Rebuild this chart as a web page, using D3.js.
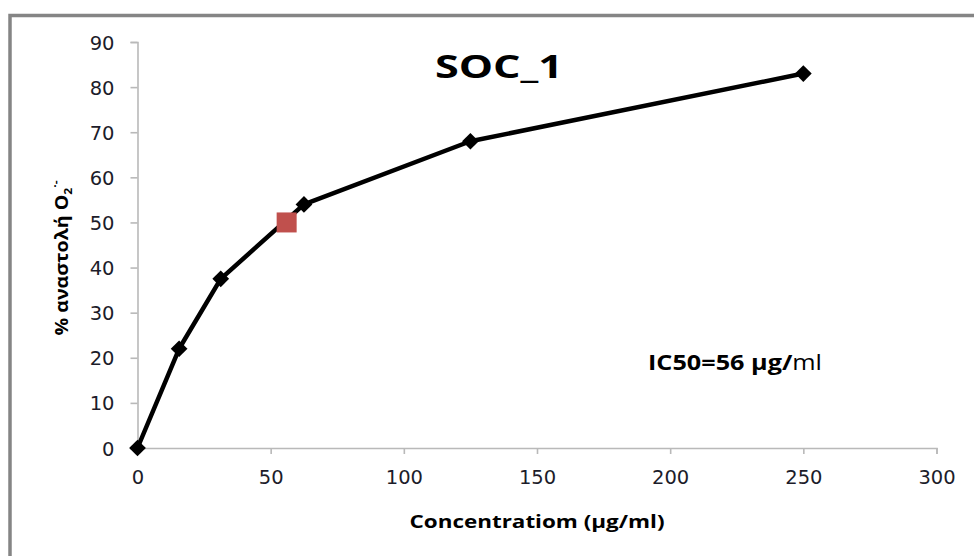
<!DOCTYPE html>
<html>
<head>
<meta charset="utf-8">
<script src="https://cdn.jsdelivr.net/npm/d3@7"></script>
<style>
  html, body { margin: 0; padding: 0; background: #fff; }
  svg { display: block; }
</style>
</head>
<body>
<svg id="chart" width="974" height="556"></svg>
<script>
// ---- data ----
const concentrations = [0, 15.625, 31.25, 62.5, 125, 250];
const inhibition = [0, 22, 37.5, 54, 68, 83];
const ic50Concentration = [56];
const ic50Inhibition = [50];
const xTickValues = [0, 50, 100, 150, 200, 250, 300];
const yTickValues = [0, 10, 20, 30, 40, 50, 60, 70, 80, 90];
const titleText = "SOC_1";
const xLabelText = "Concentratiom (µg/ml)";

const svg = d3.select("#chart");
const W = 974, H = 556;

svg.append("rect").attr("width", W).attr("height", H).attr("fill", "#fff");

// outer frame (only left and top visible)
svg.append("path")
  .attr("d", `M10,${H} V15.5 H${W}`)
  .attr("fill", "none")
  .attr("stroke", "#858585")
  .attr("stroke-width", 3.5);

const x = d3.scaleLinear().domain([0, 300]).range([137.5, 936.5]);
const y = d3.scaleLinear().domain([0, 90]).range([448, 42]);

const axisColor = "#b9b9b9";
const tickFont = "'DejaVu Sans', Verdana, sans-serif";

// y axis
const yAxis = svg.append("g").attr("transform", `translate(${x(0)},0)`)
  .call(d3.axisLeft(y).tickValues(yTickValues).tickSize(7).tickSizeOuter(7).tickPadding(16));
yAxis.select(".domain").attr("stroke", axisColor).attr("stroke-width", 1.6);
yAxis.selectAll(".tick line").attr("stroke", axisColor).attr("stroke-width", 1.6);
yAxis.selectAll(".tick text").attr("font-family", tickFont).attr("font-size", 19.5)
  .attr("fill", "#1c1c2a").attr("dy", "0.36em");

// x axis
const xAxis = svg.append("g").attr("transform", `translate(0,${y(0)})`)
  .call(d3.axisBottom(x).tickValues(xTickValues).tickSize(6).tickSizeOuter(6).tickPadding(16));
xAxis.select(".domain").attr("stroke", axisColor).attr("stroke-width", 1.6);
xAxis.selectAll(".tick line").attr("stroke", axisColor).attr("stroke-width", 1.6);
xAxis.selectAll(".tick text").attr("font-family", tickFont).attr("font-size", 19.5)
  .attr("fill", "#1c1c2a");

// line
const pts = concentrations.map((c, i) => [c, inhibition[i]]);
svg.append("path")
  .datum(pts)
  .attr("d", d3.line().x(d => x(d[0])).y(d => y(d[1])))
  .attr("fill", "none")
  .attr("stroke", "#000")
  .attr("stroke-width", 4.5)
  .attr("stroke-linejoin", "round");

// diamond markers
const diamond = d3.symbol().type(d3.symbolSquare).size(140);
svg.selectAll(".mk").data(pts).join("path")
  .attr("class", "mk")
  .attr("d", diamond)
  .attr("transform", d => `translate(${x(d[0])},${y(d[1])}) rotate(45)`)
  .attr("fill", "#000");

// IC50 red square
const icPts = ic50Concentration.map((c, i) => [c, ic50Inhibition[i]]);
svg.selectAll(".ic").data(icPts).join("rect")
  .attr("class", "ic")
  .attr("x", d => x(d[0]) - 10)
  .attr("y", d => y(d[1]) - 10)
  .attr("width", 20).attr("height", 20)
  .attr("fill", "#c0504d");

const labelFont = "'Open Sans', 'Noto Sans', sans-serif";

// title
svg.append("text")
  .attr("x", 499).attr("y", 78)
  .attr("text-anchor", "middle")
  .attr("font-family", labelFont).attr("font-weight", "bold")
  .attr("font-size", 32)
  .attr("textLength", 128).attr("lengthAdjust", "spacingAndGlyphs")
  .attr("fill", "#000")
  .text(titleText);

// IC50 annotation
const ic = svg.append("text")
  .attr("x", 648).attr("y", 370)
  .attr("font-family", labelFont).attr("font-size", 21)
  .attr("textLength", 174).attr("lengthAdjust", "spacingAndGlyphs")
  .attr("fill", "#000");
ic.append("tspan").attr("font-weight", "bold").text("IC50=56 µg/");
ic.append("tspan").attr("font-weight", "normal").text("ml");

// x label
svg.append("text")
  .attr("x", 537).attr("y", 528)
  .attr("text-anchor", "middle")
  .attr("font-family", labelFont).attr("font-weight", "bold")
  .attr("font-size", 18)
  .attr("textLength", 255).attr("lengthAdjust", "spacingAndGlyphs")
  .attr("fill", "#000")
  .text(xLabelText);

// y label
const yl = svg.append("text")
  .attr("transform", "translate(68,258) rotate(-90)")
  .attr("text-anchor", "middle")
  .attr("font-family", labelFont).attr("font-weight", "bold")
  .attr("font-size", 18)
  .attr("textLength", 155).attr("lengthAdjust", "spacingAndGlyphs")
  .attr("fill", "#000");
yl.append("tspan").text("% αναστολή O");
yl.append("tspan").attr("font-size", 11).attr("dy", 4).text("2");
yl.append("tspan").attr("font-size", 11).attr("dy", -13).text("·-");
</script>
</body>
</html>
